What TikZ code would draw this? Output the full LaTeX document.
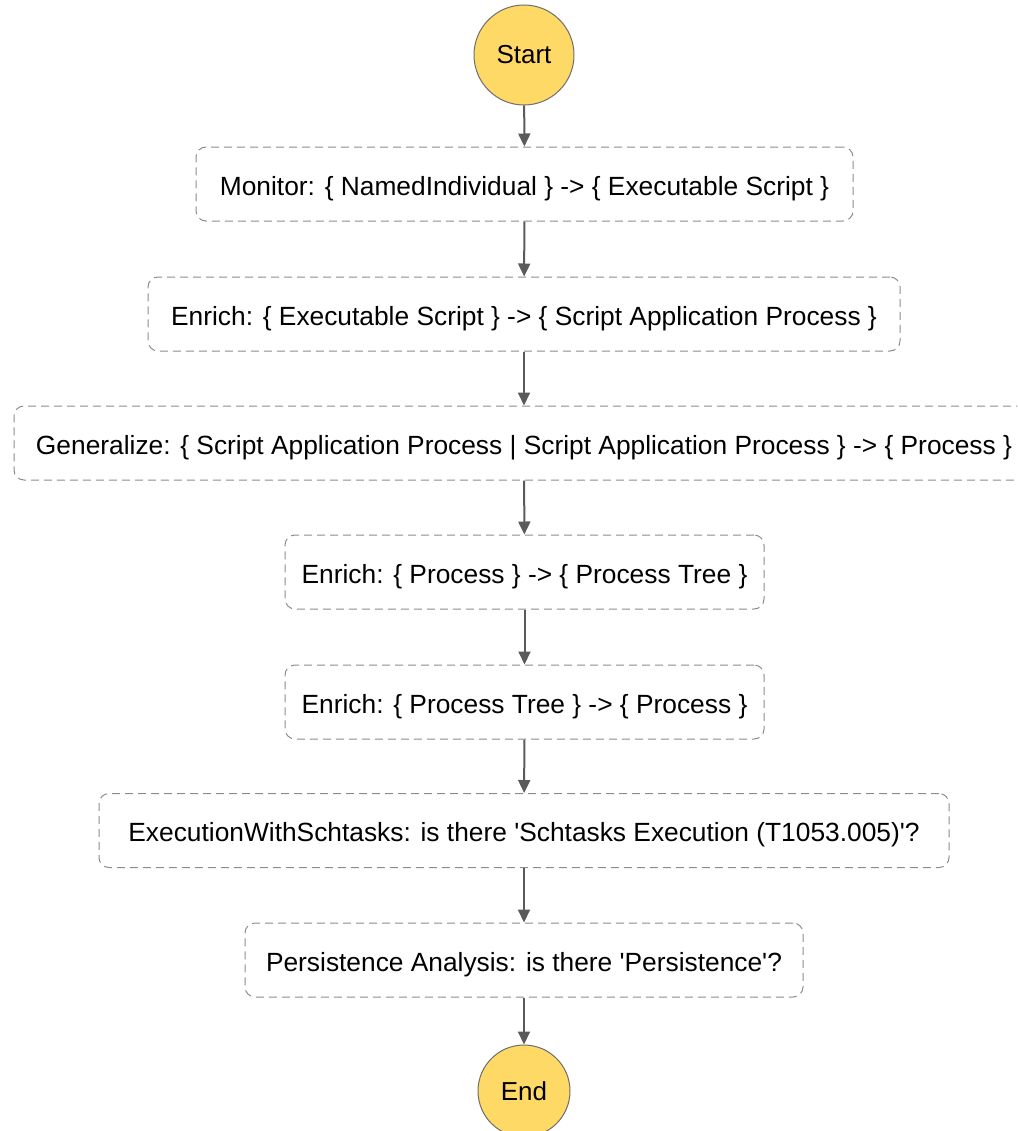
\documentclass[tikz,border=0pt]{standalone}
\usepackage{fontspec}
\setmainfont{Liberation Sans}[Ligatures=TeXOff]
\usetikzlibrary{arrows.meta}
\definecolor{termfill}{HTML}{FFD966}
\definecolor{termline}{HTML}{6E6E6E}
\definecolor{boxline}{HTML}{8C8C8C}
\definecolor{arrowc}{HTML}{5A5A5A}
\tikzset{
  term/.style={circle, draw=termline, line width=0.75pt, fill=termfill, font=\fontsize{19.5pt}{22pt}\selectfont, inner sep=0pt},
  stepbox/.style={rectangle, draw=boxline, line width=0.75pt, dash pattern=on 6pt off 3.75pt, rounded corners=7.5pt, minimum height=55.5pt, text height=19pt, text depth=2.5pt, font=\fontsize{19.75pt}{22pt}\selectfont, inner sep=0pt},
  flow/.style={draw=arrowc, line width=1.5pt, -{Triangle[length=9.75pt,width=9pt]}}
}
\begin{document}
\begin{tikzpicture}[x=0.75pt,y=-0.75pt]
\useasboundingbox (0,0) rectangle (1017,1131);
\clip (0,0) rectangle (1017,1131);
\node[term, minimum size=75pt] (start) at (524,55) {Start};
\node[stepbox, minimum width=492.75pt] (b1) at (524.5,184) {Monitor: \{ NamedIndividual \} -> \{ Executable Script \}};
\node[stepbox, minimum width=564pt] (b2) at (524,314) {Enrich: \{ Executable Script \} -> \{ Script Application Process \}};
\node[stepbox, minimum width=765pt] (b3) at (524,443) {Generalize: \{ Script Application Process | Script Application Process \} -> \{ Process \}};
\node[stepbox, minimum width=359.25pt] (b4) at (524.5,572) {Enrich: \{ Process \} -> \{ Process Tree \}};
\node[stepbox, minimum width=359.25pt] (b5) at (524.5,702) {Enrich: \{ Process Tree \} -> \{ Process \}};
\node[stepbox, minimum width=637.5pt] (b6) at (524,830.5) {ExecutionWithSchtasks: is there 'Schtasks Execution (T1053.005)'?};
\node[stepbox, minimum width=418.5pt] (b7) at (524,960) {Persistence Analysis: is there 'Persistence'?};
\node[term, minimum size=69pt] (end) at (524,1091) {End};
\draw[flow] (start) -- (b1);
\draw[flow] (b1) -- (b2);
\draw[flow] (b2) -- (b3);
\draw[flow] (b3) -- (b4);
\draw[flow] (b4) -- (b5);
\draw[flow] (b5) -- (b6);
\draw[flow] (b6) -- (b7);
\draw[flow] (b7) -- (end);
\end{tikzpicture}
\end{document}
